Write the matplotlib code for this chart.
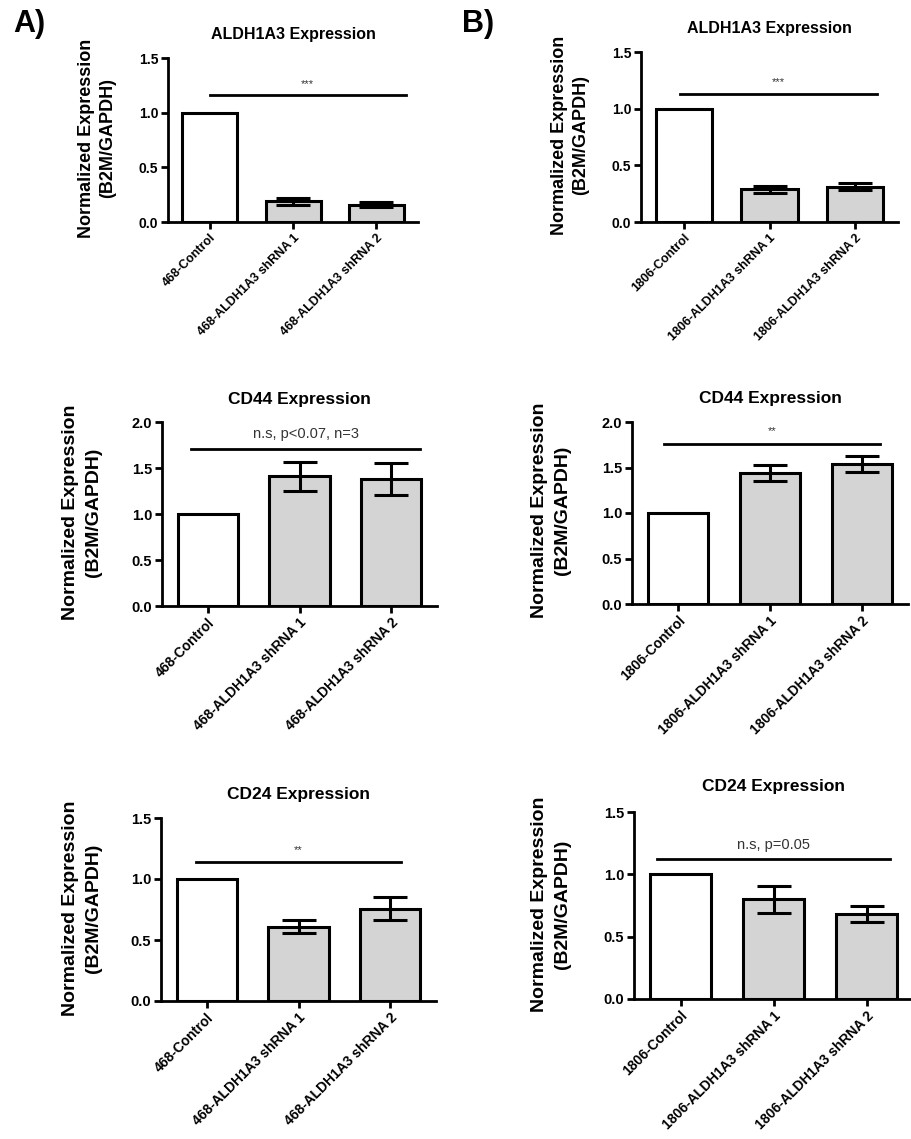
import matplotlib
matplotlib.use("Agg")
import matplotlib.pyplot as plt

plt.rcParams['font.family'] = ['Liberation Sans', 'DejaVu Sans']

W, H = 911, 1139

# data
labels_468 = ["468-Control", "468-ALDH1A3 shRNA 1", "468-ALDH1A3 shRNA 2"]
labels_1806 = ["1806-Control", "1806-ALDH1A3 shRNA 1", "1806-ALDH1A3 shRNA 2"]

aldh_468 = [1.0, 0.19, 0.16]
aldh_468_err = [0.0, 0.03, 0.02]
aldh_1806 = [1.0, 0.29, 0.31]
aldh_1806_err = [0.0, 0.03, 0.03]

cd44_468 = [1.0, 1.41, 1.38]
cd44_468_err = [0.0, 0.16, 0.17]
cd44_1806 = [1.0, 1.44, 1.54]
cd44_1806_err = [0.0, 0.09, 0.085]

cd24_468 = [1.0, 0.61, 0.755]
cd24_468_err = [0.0, 0.05, 0.095]
cd24_1806 = [1.0, 0.80, 0.685]
cd24_1806_err = [0.0, 0.11, 0.065]

bar_colors = ["white", "#d4d4d4", "#d4d4d4"]

fig = plt.figure(figsize=(W / 100, H / 100), dpi=100)


def px_axes(left, right, top, bottom):
    return fig.add_axes([left / W, 1 - bottom / H, (right - left) / W, (bottom - top) / H])


def panel(box, title, labels, vals, errs, ymax, sig_y, sig_x, sig_text, sig_size,
          small, ylab_xy, title_pad):
    ax = px_axes(*box)
    x = range(len(vals))
    ax.bar(x, vals, width=0.66, color=bar_colors, edgecolor="black", linewidth=2.2, zorder=2)
    for i in x:
        if errs[i] > 0:
            ax.errorbar(i, vals[i], yerr=errs[i], color="black", capsize=12,
                        capthick=2.2, elinewidth=2.2, zorder=3)
    ax.set_xlim(-0.5, 2.5)
    ax.set_ylim(0, ymax)
    ax.set_yticks([v * 0.5 for v in range(int(ymax / 0.5) + 1)])
    ax.set_yticklabels(["%.1f" % (v * 0.5) for v in range(int(ymax / 0.5) + 1)])
    ax.set_xticks(list(x))
    fs_tick = 9 if small else 10
    ax.set_xticklabels(labels, rotation=45, ha="right", rotation_mode="anchor",
                       fontsize=fs_tick, fontweight="bold")
    for t in ax.get_yticklabels():
        t.set_fontweight("bold")
        t.set_fontsize(10 if small else 10.5)
    for s in ["top", "right"]:
        ax.spines[s].set_visible(False)
    for s in ["left", "bottom"]:
        ax.spines[s].set_linewidth(2)
    ax.tick_params(axis="both", width=2, length=5, pad=2)
    ax.set_title(title, fontsize=11.5 if small else 12.5, fontweight="bold", pad=title_pad)
    ax.plot(sig_x, [sig_y, sig_y], color="black", linewidth=2, clip_on=False)
    ax.text(sum(sig_x) / 2, sig_y + ymax * 0.04, sig_text, ha="center", va="bottom",
            fontsize=sig_size, color="#333333")
    fig.text(ylab_xy[0] / W, 1 - ylab_xy[1] / H, "Normalized Expression\n(B2M/GAPDH)",
             rotation=90, ha="center", va="center", multialignment="center",
             fontsize=13 if small else 14, fontweight="bold",
             linespacing=1.35 if small else 1.45)
    return ax


panel((168, 418, 58, 222), "ALDH1A3 Expression", labels_468, aldh_468, aldh_468_err,
      1.5, 1.16, [0.0, 2.35], "***", 8, True, (97, 138), 14)
panel((641, 898, 52, 222), "ALDH1A3 Expression", labels_1806, aldh_1806, aldh_1806_err,
      1.5, 1.13, [-0.05, 2.25], "***", 8, True, (570, 135), 14)
panel((162, 437, 422, 606), "CD44 Expression", labels_468, cd44_468, cd44_468_err,
      2.0, 1.71, [-0.18, 2.32], "n.s, p<0.07, n=3", 10.5, False, (82, 512), 13)
panel((632, 908, 422, 604), "CD44 Expression", labels_1806, cd44_1806, cd44_1806_err,
      2.0, 1.76, [-0.15, 2.2], "**", 8, False, (551, 510), 14)
panel((161, 436, 818, 1001), "CD24 Expression", labels_468, cd24_468, cd24_468_err,
      1.5, 1.14, [-0.12, 2.12], "**", 8, False, (82, 908), 14)
panel((634, 913, 812, 999), "CD24 Expression", labels_1806, cd24_1806, cd24_1806_err,
      1.5, 1.12, [-0.25, 2.25], "n.s, p=0.05", 10.5, False, (551, 904), 15)

fig.text(13 / W, 1 - 24 / H, "A)", fontsize=22, fontweight="bold", va="center", ha="left")
fig.text(462 / W, 1 - 24 / H, "B)", fontsize=22, fontweight="bold", va="center", ha="left")

fig.savefig("out.png", dpi=100)
